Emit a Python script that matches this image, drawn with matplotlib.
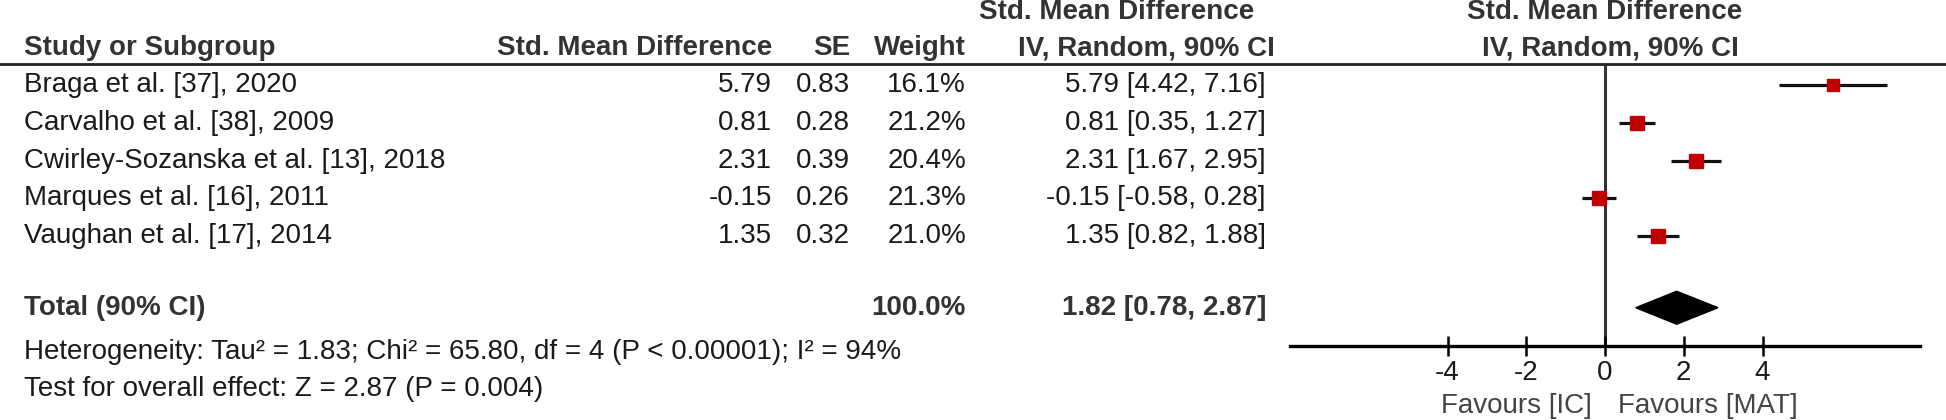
import numpy as np
import matplotlib
matplotlib.use("Agg")
import matplotlib.pyplot as plt
import matplotlib.transforms as mtransforms
from matplotlib.lines import Line2D
from matplotlib.patches import Polygon

plt.rcParams['font.family'] = ['Liberation Sans', 'DejaVu Sans']

#%% data
studies = ["Braga et al. [37], 2020",
           "Carvalho et al. [38], 2009",
           "Cwirley-Sozanska et al. [13], 2018",
           "Marques et al. [16], 2011",
           "Vaughan et al. [17], 2014"]
smd     = [5.79, 0.81, 2.31, -0.15, 1.35]
se      = [0.83, 0.28, 0.39, 0.26, 0.32]
weight  = [16.1, 21.2, 20.4, 21.3, 21.0]
ci_lo   = [4.42, 0.35, 1.67, -0.58, 0.82]
ci_hi   = [7.16, 1.27, 2.95, 0.28, 1.88]

total_est, total_lo, total_hi = 1.82, 0.78, 2.87
total_weight = 100.0
xticks = [-4, -2, 0, 2, 4]
het_text  = "Heterogeneity: Tau\u00b2 = 1.83; Chi\u00b2 = 65.80, df = 4 (P < 0.00001); I\u00b2 = 94%"
test_text = "Test for overall effect: Z = 2.87 (P = 0.004)"

#%% layout
W, H = 1946, 420
fig = plt.figure(figsize=(W / 100, H / 100), dpi=100)

def fx(px):
    return px / W

def fy(py):
    return 1 - py / H

row_step = 37.75
ax = fig.add_axes([fx(1290), fy(346), fx(1920) - fx(1290), fy(64) - fy(346)])
ax.set_xlim(-8, 8)
ax.set_ylim((346 - 85) / row_step, (64 - 85) / row_step)

rows = np.arange(len(studies))
total_row = 5.9

txt_col = '#1a1a1a'
hdr_col = '#333333'
fs = 20

# forest marks
ax.axvline(0, color='#333333', lw=2.2, zorder=1)
for y, m, lo, hi, w in zip(rows, smd, ci_lo, ci_hi, weight):
    ax.plot([lo, hi], [y, y], color='#111111', lw=2.3, solid_capstyle='butt', zorder=2)
    ax.plot(m, y, marker='s', ms=9.6 * np.sqrt(w / 21.2), color='#c00000',
            mec='#c00000', zorder=3)

h = 16.5 / row_step
ax.add_patch(Polygon([(total_lo, total_row), (total_est, total_row - h),
                      (total_hi, total_row), (total_est, total_row + h)],
                     closed=True, color='black', zorder=3))

for s in ['top', 'left', 'right']:
    ax.spines[s].set_visible(False)
ax.spines['bottom'].set_linewidth(2.4)
ax.spines['bottom'].set_color('black')
ax.set_yticks([])
ax.set_xticks(xticks)
ax.set_xticklabels([str(t) for t in xticks])
ax.tick_params(axis='x', direction='inout', length=14, width=1.8, color='black',
               labelsize=fs, pad=3, labelcolor=txt_col)
ax.patch.set_visible(False)

# favours labels
fig.text(fx(1592), fy(406), "Favours [IC]", ha='right', va='center', fontsize=fs, color='#444444')
fig.text(fx(1618), fy(406), "Favours [MAT]", ha='left', va='center', fontsize=fs, color='#444444')

# table text
tr = mtransforms.blended_transform_factory(fig.transFigure, ax.transData)
for y, name, m, s_, w, lo, hi in zip(rows, studies, smd, se, weight, ci_lo, ci_hi):
    fig.text(fx(24), y, name, transform=tr, ha='left', va='center', fontsize=fs, color=txt_col)
    fig.text(fx(772), y, f"{m:.2f}", transform=tr, ha='right', va='center', fontsize=fs, color=txt_col)
    fig.text(fx(850), y, f"{s_:.2f}", transform=tr, ha='right', va='center', fontsize=fs, color=txt_col)
    fig.text(fx(966), y, f"{w:.1f}%", transform=tr, ha='right', va='center', fontsize=fs, color=txt_col)
    fig.text(fx(1266), y, f"{m:.2f} [{lo:.2f}, {hi:.2f}]", transform=tr, ha='right', va='center',
             fontsize=fs, color=txt_col)

fig.text(fx(24), total_row, "Total (90% CI)", transform=tr, ha='left', va='center',
         fontsize=fs, fontweight='bold', color=hdr_col)
fig.text(fx(966), total_row, f"{total_weight:.1f}%", transform=tr, ha='right', va='center',
         fontsize=fs, fontweight='bold', color=hdr_col)
fig.text(fx(1266), total_row, f"{total_est:.2f} [{total_lo:.2f}, {total_hi:.2f}]", transform=tr,
         ha='right', va='center', fontsize=fs, fontweight='bold', color=hdr_col)

fig.text(fx(24), fy(352), het_text, ha='left', va='center', fontsize=fs, color=txt_col)
fig.text(fx(24), fy(389), test_text, ha='left', va='center', fontsize=fs, color=txt_col)

# headers
hk = dict(va='center', fontsize=fs, fontweight='bold', color=hdr_col)
fig.text(fx(24), fy(48), "Study or Subgroup", ha='left', **hk)
fig.text(fx(772), fy(48), "Std. Mean Difference", ha='right', **hk)
fig.text(fx(850), fy(48), "SE", ha='right', **hk)
fig.text(fx(966), fy(48), "Weight", ha='right', **hk)
fig.text(fx(1117), fy(12), "Std. Mean Difference", ha='center', **hk)
fig.text(fx(1146), fy(48), "IV, Random, 90% CI", ha='center', **hk)
fig.text(fx(1605), fy(12), "Std. Mean Difference", ha='center', **hk)
fig.text(fx(1610), fy(48), "IV, Random, 90% CI", ha='center', **hk)

fig.add_artist(Line2D([0, 1], [fy(64), fy(64)], transform=fig.transFigure,
                      color='#222222', lw=2.0))

fig.savefig("out.png", dpi=100)
